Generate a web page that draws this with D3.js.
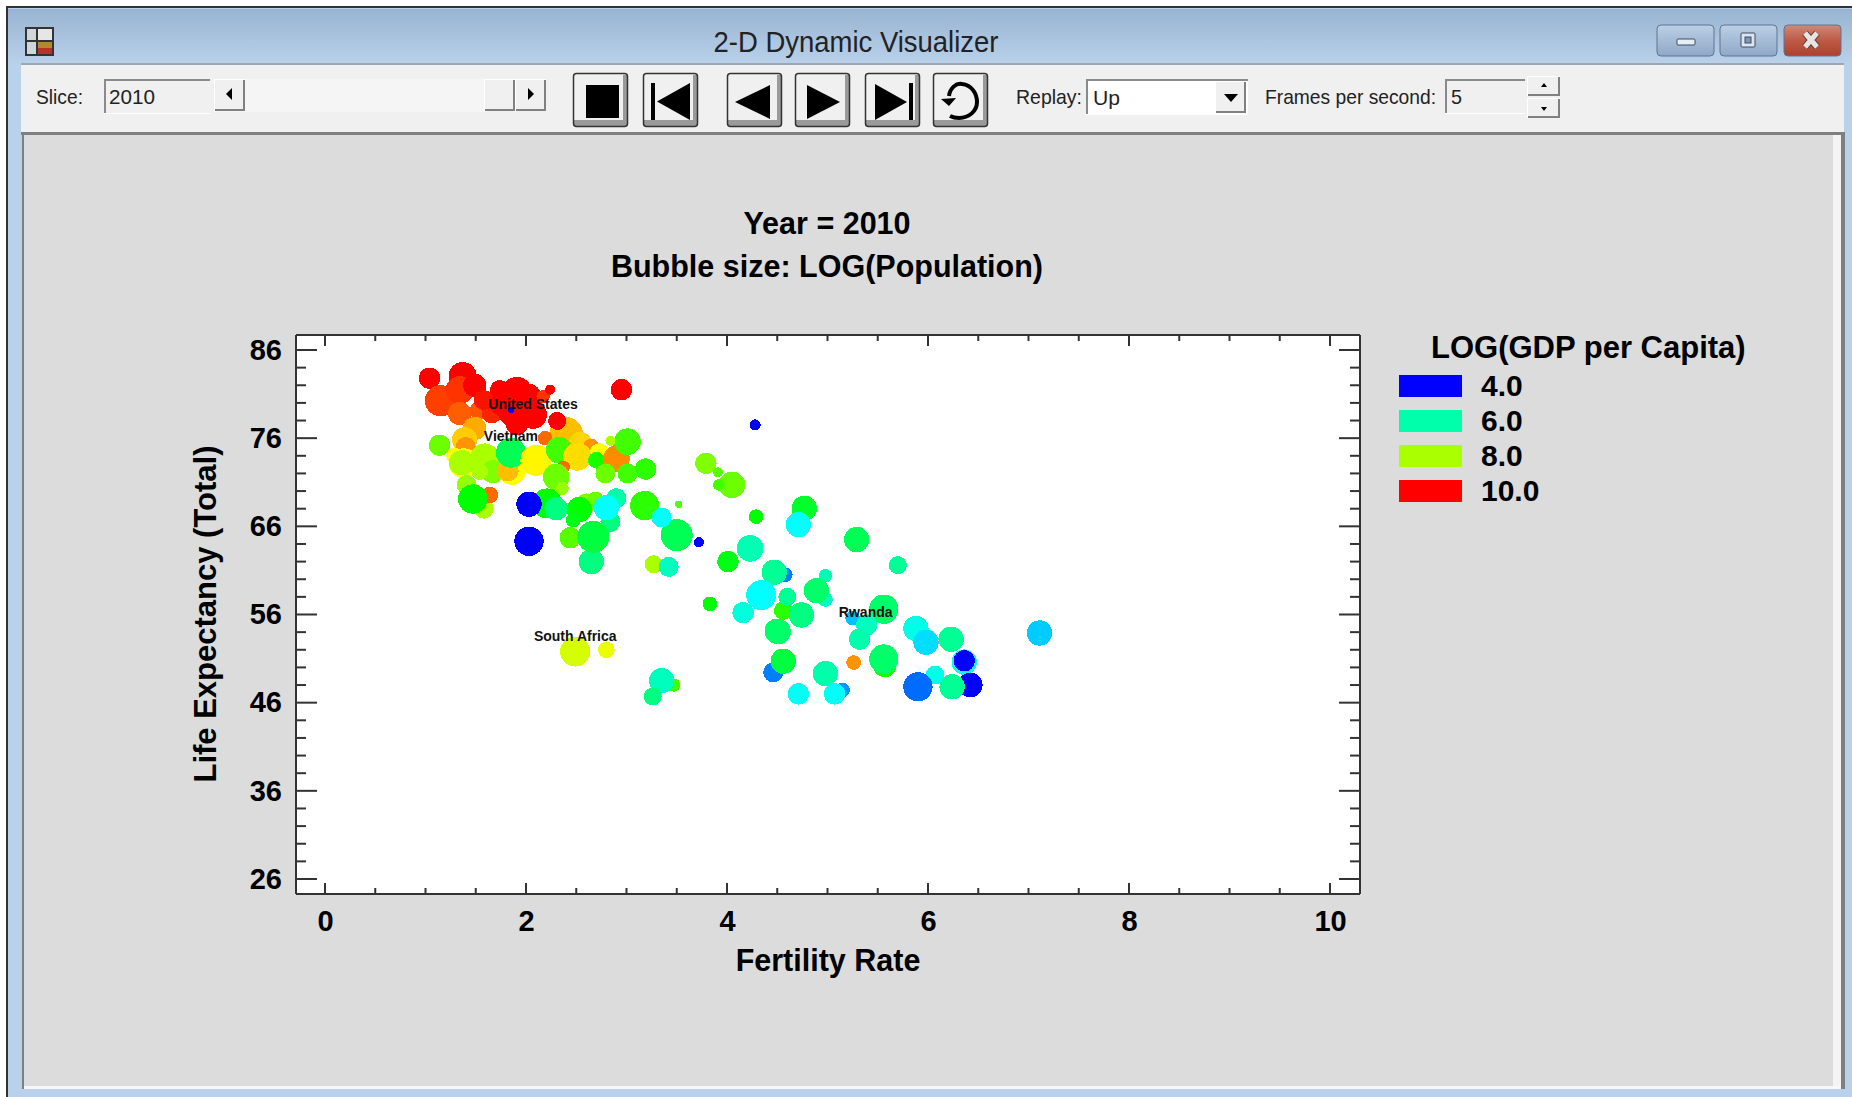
<!DOCTYPE html>
<html>
<head>
<meta charset="utf-8">
<title>2-D Dynamic Visualizer</title>
<script src="https://cdn.jsdelivr.net/npm/d3@7"></script>
<style>
  html, body { margin: 0; padding: 0; background: #fff; overflow: hidden; }
  svg { display: block; }
  text { font-family: "Liberation Sans", Arial, sans-serif; }
  .ui { font-size: 21px; fill: #222; }
</style>
</head>
<body>
<svg id="chart" width="1852" height="1097"></svg>
<script>
// values, one entry per country, drawn in this order
const fertility = [
  1.04, 1.37, 1.15, 1.34, 1.49, 1.34, 1.53, 1.66, 1.74, 1.58, 1.74, 1.91, 2.02, 1.87, 2.07, 1.91, 2.17, 2.24, 2.95, 1.85,
  1.14, 1.49, 1.39, 1.40, 1.29, 1.38, 1.36, 1.59, 1.67, 1.54, 1.86, 1.92, 1.82, 1.85, 2.10, 2.40, 2.54, 2.65, 2.73,
  2.31, 2.19, 2.33, 2.51, 2.70, 2.37, 2.90, 3.01, 2.84, 2.79, 3.01, 3.19, 3.79, 3.91, 4.05, 3.92, 4.28, 2.30, 2.36,
  1.41, 1.58, 1.64, 1.47, 2.21, 2.30, 2.03, 2.03, 2.60, 2.69, 2.90, 2.84, 2.53, 2.47, 2.80, 3.18, 3.52,
  3.50, 3.35, 3.72, 2.44, 2.65, 2.67, 3.27, 3.42, 4.29, 4.01, 4.23, 4.58, 4.47, 4.34, 4.16, 3.83, 4.56,
  4.60, 4.50, 4.77, 4.71, 5.29, 5.70, 4.98, 4.98, 4.89, 4.74, 4.51, 5.56, 5.25, 5.39, 5.32, 5.88, 5.98,
  6.23, 7.11, 6.36, 6.36, 6.42, 6.07, 5.90, 6.24, 5.57, 5.56, 5.26, 4.98, 4.46, 4.56, 4.71, 5.15, 5.07,
  3.47, 3.35, 3.26, 2.49, 2.80
];
const lifeExpectancy = [
  82.8, 83.05, 80.25, 81.45, 82.0, 78.8, 79.1, 78.8, 81.46, 80.33, 79.76, 81.25, 80.7, 79.0, 78.65, 77.7, 80.7, 81.5, 81.5, 79.2,
  75.2, 77.1, 75.8, 75.0, 74.0, 73.15, 73.2, 73.7, 72.2, 72.2, 72.2, 72.2, 72.3, 74.35, 73.5, 76.5, 75.4, 75.0, 74.3,
  77.95, 76.0, 74.65, 73.9, 73.5, 72.7, 73.7, 75.6, 75.7, 72.0, 72.0, 72.5, 73.15, 72.13, 70.7, 70.7, 77.5, 71.6, 70.3,
  70.7, 68.0, 69.55, 69.1, 68.6, 68.0, 68.5, 64.3, 68.6, 69.0, 69.2, 66.5, 67.9, 66.7, 68.1, 68.35, 68.5,
  65.0, 67.0, 64.2, 64.7, 62.0, 64.8, 61.7, 61.4, 67.1, 62.0, 63.5, 60.5, 60.8, 58.2, 56.2, 57.2, 56.45,
  58.0, 54.1, 68.05, 66.2, 64.5, 61.6, 60.4, 57.7, 58.7, 55.95, 54.05, 56.6, 55.6, 54.8, 53.2, 54.4, 52.85,
  53.2, 53.9, 50.6, 50.75, 48.0, 49.15, 47.8, 47.8, 50.2, 50.95, 50.55, 49.3, 49.45, 50.7, 47.0, 47.45, 47.0,
  48.0, 48.5, 46.7, 51.8, 52.0
];
const logGdp = [
  10, 10, 9.63, 9.7, 10, 9.45, 9.5, 9.8, 10, 9.9, 10, 10, 10, 10, 10, 10, 9.7, 10, 10, 4,
  7.63, 9, 8.8, 9.13, 8.5, 8.5, 8, 8, 7.75, 8, 8.5, 8.5, 8.88, 6.5, 8.55, 8.88, 8.75, 9.13, 8.5,
  10, 9.38, 7.38, 8.7, 7.13, 9.38, 9.18, 7.38, 8, 7.63, 7.38, 7.25, 7.75, 7.5, 7.63, 7.38, 4, 7.63, 7.88,
  7.88, 8, 9.38, 7, 7, 6.25, 4, 4, 7.75, 7.63, 6, 6.25, 7, 6.88, 5.5, 7.25, 7.5,
  6.5, 5.55, 4, 7.5, 6.25, 6.63, 8, 5.88, 7, 6.88, 5.95, 4.75, 6.13, 5.5, 5.7, 7, 7.25,
  6.13, 6.38, 6.75, 5.5, 6.5, 6.13, 5.95, 5.88, 6.38, 6.25, 6.38, 6.38, 5.13, 5.88, 6, 5.63, 5.3,
  6.13, 5.2, 5.63, 4, 4, 5.63, 4.63, 6.13, 7.13, 6.38, 9.13, 6, 4.75, 6.63, 5.55, 4.88, 5.55,
  7.38, 5.88, 6.25, 8.25, 8.38
];
const logPop = [
  6.95, 8.23, 8.87, 8.23, 7.33, 7.33, 6.44, 6.69, 6.69, 6.69, 6.69, 8.62, 7.97, 8.62, 8.23, 7.33, 5.41, 4.77, 6.95, 4.13,
  6.95, 7.33, 7.72, 6.69, 6.05, 8.62, 7.72, 8.62, 7.33, 6.05, 7.97, 6.05, 6.95, 8.62, 8.87, 9.26, 7.33, 6.05, 6.69,
  6.31, 5.67, 7.97, 8.23, 6.05, 5.41, 7.97, 7.97, 4.77, 6.69, 6.69, 6.95, 6.95, 4.77, 7.97, 5.1, 5.0, 7.97, 5.41,
  6.69, 6.69, 6.05, 8.49, 8.62, 7.33, 7.72, 8.49, 6.69, 6.05, 6.69, 6.69, 7.72, 5.67, 7.72, 8.49, 4.26,
  9.0, 6.69, 4.77, 6.95, 7.72, 9.0, 6.31, 6.69, 5.67, 6.95, 7.97, 5.67, 7.72, 8.62, 6.95, 5.67, 6.44,
  6.31, 7.72, 7.72, 7.72, 7.72, 6.31, 5.41, 5.67, 7.72, 7.72, 7.72, 8.49, 5.67, 6.95, 6.95, 7.72, 7.72,
  7.72, 7.72, 7.72, 6.95, 7.6, 6.44, 8.49, 7.72, 7.33, 8.49, 5.67, 7.72, 6.69, 7.72, 6.95, 5.67, 6.95,
  5.41, 7.72, 6.31, 8.62, 6.05
];

const xTicks = [0, 2, 4, 6, 8, 10];
const yTicks = [26, 36, 46, 56, 66, 76, 86];
const legendValues = [4, 6, 8, 10];
const labelNames = ["United States", "Vietnam", "South Africa", "Rwanda"];
const labelFertility = [2.07, 1.85, 2.49, 5.38];
const labelLife = [79.33, 75.65, 52.95, 55.75];

// chart dimensions, absolute in the window
const plot = { left: 296, right: 1360, top: 335, bottom: 894 };

const x = d3.scaleLinear().domain([0, 10]).range([325, 1330]);
const y = d3.scaleLinear().domain([26, 86]).range([879, 350]);
const r = d3.scaleLinear().domain([4, 9]).range([3, 16]);
const hue = d3.scaleLinear().domain([4, 10]).range([240, 0]);
const colour = v => d3.hsl(hue(v), 1, 0.5).formatHex();

const svg = d3.select("#chart");
const defs = svg.append("defs");

const grad = defs.append("linearGradient")
  .attr("id", "titlebar").attr("x1", 0).attr("x2", 0).attr("y1", 0).attr("y2", 1);
grad.append("stop").attr("offset", 0).attr("stop-color", "#99b4d1");
grad.append("stop").attr("offset", 1).attr("stop-color", "#b9d1ea");

const btnGrad = defs.append("linearGradient")
  .attr("id", "capbtn").attr("x1", 0).attr("x2", 0).attr("y1", 0).attr("y2", 1);
btnGrad.append("stop").attr("offset", 0).attr("stop-color", "#bcd0e6");
btnGrad.append("stop").attr("offset", 0.5).attr("stop-color", "#a5bcd6");
btnGrad.append("stop").attr("offset", 1).attr("stop-color", "#8fa8c6");

const redGrad = defs.append("linearGradient")
  .attr("id", "closebtn").attr("x1", 0).attr("x2", 0).attr("y1", 0).attr("y2", 1);
redGrad.append("stop").attr("offset", 0).attr("stop-color", "#cf8a78");
redGrad.append("stop").attr("offset", 0.5).attr("stop-color", "#bd5a46");
redGrad.append("stop").attr("offset", 1).attr("stop-color", "#ae3f2d");

function rect(parent, xp, yp, w, h, fill, stroke) {
  return parent.append("rect")
    .attr("x", xp).attr("y", yp).attr("width", w).attr("height", h)
    .attr("fill", fill).attr("stroke", stroke || "none");
}

// window frame
const win = svg.append("g");
rect(win, 6, 7, 1846, 1090, "#b9d1ea");
rect(win, 6, 6, 1846, 2, "#333");
rect(win, 6, 6, 2, 1091, "#333");
rect(win, 8, 9, 1844, 55, "url(#titlebar)");
rect(win, 21, 65, 1823, 67, "#f0f0f0");
rect(win, 21, 63, 1823, 2, "#9aa7b5");
rect(win, 23, 132, 1810, 954, "#dcdcdc");
rect(win, 1833, 132, 8, 957, "#f4f4f4");
rect(win, 1841, 132, 4, 957, "#7f7f7f");
rect(win, 23, 1086, 1818, 3, "#f8f8f8");
rect(win, 21, 132, 1820, 3, "#7f7f7f");
rect(win, 22, 132, 2, 957, "#7f7f7f");

win.append("text").attr("x", 856).attr("y", 52).attr("text-anchor", "middle")
  .attr("font-size", 29).attr("fill", "#222")
  .attr("textLength", 285).attr("lengthAdjust", "spacingAndGlyphs")
  .text("2-D Dynamic Visualizer");

// app icon
rect(win, 25, 27, 29, 29, "#333");
[[27, 29, 9, 11, "#cfd6dc"], [38, 29, 14, 11, "#e6e6e6"], [27, 42, 9, 12, "#cfd6dc"], [38, 42, 14, 6, "#b5872c"], [38, 48, 14, 6, "#b8322c"]]
  .forEach(c => rect(win, c[0], c[1], c[2], c[3], c[4]));

// caption buttons
const caps = [[1657, 57, "url(#capbtn)"], [1720, 57, "url(#capbtn)"], [1784, 57, "url(#closebtn)"]];
caps.forEach(c => {
  win.append("rect").attr("x", c[0]).attr("y", 25).attr("width", c[1]).attr("height", 31).attr("rx", 4)
    .attr("fill", c[2]).attr("stroke", "#5f7590");
});
win.append("rect").attr("x", 1677).attr("y", 39).attr("width", 18).attr("height", 6).attr("rx", 1)
  .attr("fill", "#e8eef5").attr("stroke", "#3c4d62");
win.append("rect").attr("x", 1741).attr("y", 33).attr("width", 14).attr("height", 14).attr("rx", 1)
  .attr("fill", "#dde6f0").attr("stroke", "#3c4d62");
win.append("rect").attr("x", 1745).attr("y", 37).attr("width", 6).attr("height", 6)
  .attr("fill", "#7f97b4").attr("stroke", "#3c4d62");
win.append("path").attr("d", "M1805,33l12,14M1817,33l-12,14")
  .attr("stroke", "#5a3a36").attr("stroke-width", 7).attr("fill", "none");
win.append("path").attr("d", "M1805,33l12,14M1817,33l-12,14")
  .attr("stroke", "#e8e4e2").attr("stroke-width", 5).attr("fill", "none");

// toolbar
const tb = svg.append("g");
function field(xp, yp, w, h, fill) {
  rect(tb, xp, yp, w, h, fill);
  rect(tb, xp, yp, w, 2, "#8a8a8a");
  rect(tb, xp, yp, 2, h, "#8a8a8a");
  rect(tb, xp, yp + h - 1, w, 1, "#fff");
}
function smallBtn(xp, yp, w, h) {
  rect(tb, xp, yp, w, h, "#f0f0f0", "none");
  rect(tb, xp, yp + h - 2, w, 2, "#808080");
  rect(tb, xp + w - 2, yp, 2, h, "#808080");
  rect(tb, xp, yp, w, 1, "#fff");
  rect(tb, xp, yp, 1, h, "#fff");
}
function uiText(xp, yp, s, len) {
  return tb.append("text").attr("class", "ui").attr("x", xp).attr("y", yp)
    .attr("textLength", len).attr("lengthAdjust", "spacingAndGlyphs").text(s);
}
uiText(36, 104, "Slice:", 47);
field(104, 79, 106, 35, "#f0f0f0");
uiText(109, 104, "2010", 46);
rect(tb, 215, 79, 275, 33, "#f5f5f5");
smallBtn(214, 79, 31, 32);
tb.append("path").attr("d", "M232,88v12l-6,-6z").attr("fill", "#000");
smallBtn(484, 79, 31, 32);
smallBtn(515, 79, 31, 32);
tb.append("path").attr("d", "M528,88v12l6,-6z").attr("fill", "#000");

function bigBtn(xp) {
  rect(tb, xp + 1, 120, 52, 6, "#9a9a9a");
  rect(tb, xp + 50, 75, 4, 50, "#9a9a9a");
  tb.append("rect").attr("x", xp + 0.5).attr("y", 73.5).attr("width", 54).attr("height", 53).attr("rx", 3)
    .attr("fill", "none").attr("stroke", "#333").attr("stroke-width", 1.5);
}
[573, 643, 727, 795, 865, 933].forEach(bigBtn);
rect(tb, 586, 85, 33, 33, "#000");
rect(tb, 651, 83, 4, 37, "#000");
tb.append("path").attr("d", "M690,83v37l-33,-18.5z").attr("fill", "#000");
tb.append("path").attr("d", "M770,85v34l-35,-17z").attr("fill", "#000");
tb.append("path").attr("d", "M807,85v34l33,-17z").attr("fill", "#000");
tb.append("path").attr("d", "M875,84v36l32,-18z").attr("fill", "#000");
rect(tb, 909, 83, 4, 37, "#000");
tb.append("path").attr("d", "M949,96C950,88 956,83 962,84C972,85 977,94 977,102C977,111 969,118 959,118C955,118 952,117 950,116")
  .attr("fill", "none").attr("stroke", "#000").attr("stroke-width", 4);
tb.append("path").attr("d", "M941,99l15,-1l-7,8z").attr("fill", "#000");

uiText(1016, 104, "Replay:", 66);
field(1086, 79, 162, 36, "#fff");
uiText(1093, 105, "Up", 27);
smallBtn(1215, 81, 31, 32);
tb.append("path").attr("d", "M1224,94h14l-7,8z").attr("fill", "#000");
uiText(1265, 104, "Frames per second:", 171);
field(1445, 79, 80, 35, "#f0f0f0");
uiText(1451, 104, "5", 11);
smallBtn(1527, 76, 33, 20);
smallBtn(1527, 98, 33, 20);
tb.append("path").attr("d", "M1544,83l-3,4h6z").attr("fill", "#000");
tb.append("path").attr("d", "M1541,107h6l-3,4z").attr("fill", "#000");

// plot area
rect(svg, plot.left, plot.top, plot.right - plot.left, plot.bottom - plot.top, "#fff");

const chart = svg.append("g");

// bubbles, blocky edges like the original raster
chart.selectAll("circle")
  .data(fertility.map((f, i) => i))
  .enter()
  .append("circle")
  .attr("cx", i => x(fertility[i]))
  .attr("cy", i => y(lifeExpectancy[i]))
  .attr("r", i => r(logPop[i]))
  .attr("fill", i => colour(logGdp[i]))
  .attr("shape-rendering", "crispEdges");

// country labels
chart.selectAll(".country")
  .data(labelNames)
  .enter()
  .append("text")
  .attr("class", "country")
  .attr("x", (d, i) => x(labelFertility[i]))
  .attr("y", (d, i) => y(labelLife[i]))
  .attr("text-anchor", "middle")
  .attr("font-size", 14)
  .attr("font-weight", "bold")
  .attr("fill", "#111")
  .text(d => d);

// axes, ticks point inward on all four sides
const axisStyle = g => {
  g.selectAll("path,line").attr("stroke", "#333").attr("stroke-width", 2);
  g.selectAll("text").attr("fill", "#000").attr("font-size", 29).attr("font-weight", "bold")
    .style("font-family", "'Liberation Sans', Arial, sans-serif");
};
const xMinor = d3.range(0, 10.01, 0.5);
const yMinor = d3.range(26, 86.01, 2);

const bottomAxis = svg.append("g").attr("transform", "translate(0," + plot.bottom + ")");
bottomAxis.call(d3.axisBottom(x).tickValues(xTicks).tickSize(0).tickPadding(16).tickFormat(d3.format("d")));
bottomAxis.select(".domain").attr("d", "M" + plot.left + ",0H" + plot.right);
bottomAxis.call(axisStyle);

const leftAxis = svg.append("g").attr("transform", "translate(" + plot.left + ",0)");
leftAxis.call(d3.axisLeft(y).tickValues(yTicks).tickSize(0).tickPadding(14).tickFormat(d3.format("d")));
leftAxis.select(".domain").attr("d", "M0," + plot.top + "V" + plot.bottom);
leftAxis.call(axisStyle);

const topAxis = svg.append("g").attr("transform", "translate(0," + plot.top + ")");
topAxis.call(d3.axisTop(x).tickValues([]).tickSize(0));
topAxis.select(".domain").attr("d", "M" + plot.left + ",0H" + plot.right);
topAxis.call(axisStyle);

const rightAxis = svg.append("g").attr("transform", "translate(" + plot.right + ",0)");
rightAxis.call(d3.axisRight(y).tickValues([]).tickSize(0));
rightAxis.select(".domain").attr("d", "M0," + plot.top + "V" + plot.bottom);
rightAxis.call(axisStyle);

const tickStroke = sel => sel.attr("stroke", "#333").attr("stroke-width", 2);
const isMajorX = v => v % 2 === 0;
const isMajorY = v => (v - 26) % 10 === 0;

chart.selectAll(".xb").data(xMinor).enter().append("line").attr("class", "xb")
  .attr("x1", x).attr("x2", x).attr("y1", plot.bottom)
  .attr("y2", d => plot.bottom - (isMajorX(d) ? 11 : 6)).call(tickStroke);
chart.selectAll(".xt").data(xMinor).enter().append("line").attr("class", "xt")
  .attr("x1", x).attr("x2", x).attr("y1", plot.top)
  .attr("y2", d => plot.top + (isMajorX(d) ? 11 : 6)).call(tickStroke);
chart.selectAll(".yl").data(yMinor).enter().append("line").attr("class", "yl")
  .attr("y1", y).attr("y2", y).attr("x1", plot.left)
  .attr("x2", d => plot.left + (isMajorY(d) ? 21 : 10)).call(tickStroke);
chart.selectAll(".yr").data(yMinor).enter().append("line").attr("class", "yr")
  .attr("y1", y).attr("y2", y).attr("x1", plot.right)
  .attr("x2", d => plot.right - (isMajorY(d) ? 21 : 10)).call(tickStroke);

// titles
const boldText = (xp, yp, s, size) => svg.append("text")
  .attr("x", xp).attr("y", yp).attr("font-size", size).attr("font-weight", "bold")
  .attr("fill", "#000").text(s);

boldText(827, 234, "Year = 2010", 30.5).attr("text-anchor", "middle");
boldText(827, 277, "Bubble size: LOG(Population)", 30.5).attr("text-anchor", "middle");
boldText(828, 971, "Fertility Rate", 30.5).attr("text-anchor", "middle");
boldText(0, 0, "Life Expectancy (Total)", 31)
  .attr("text-anchor", "middle")
  .attr("transform", "translate(216,614) rotate(-90)");

// legend
boldText(1431, 358, "LOG(GDP per Capita)", 31);
const legend = svg.append("g");
const legendY = d3.scalePoint().domain(legendValues).range([375, 480]);
legend.selectAll("rect").data(legendValues).enter().append("rect")
  .attr("x", 1399).attr("y", d => legendY(d)).attr("width", 63).attr("height", 22)
  .attr("fill", d => colour(d));
legend.selectAll("text").data(legendValues).enter().append("text")
  .attr("x", 1481).attr("y", d => legendY(d) + 21)
  .attr("font-size", 30).attr("font-weight", "bold").attr("fill", "#000")
  .text(d => d3.format(".1f")(d));
</script>
</body>
</html>
